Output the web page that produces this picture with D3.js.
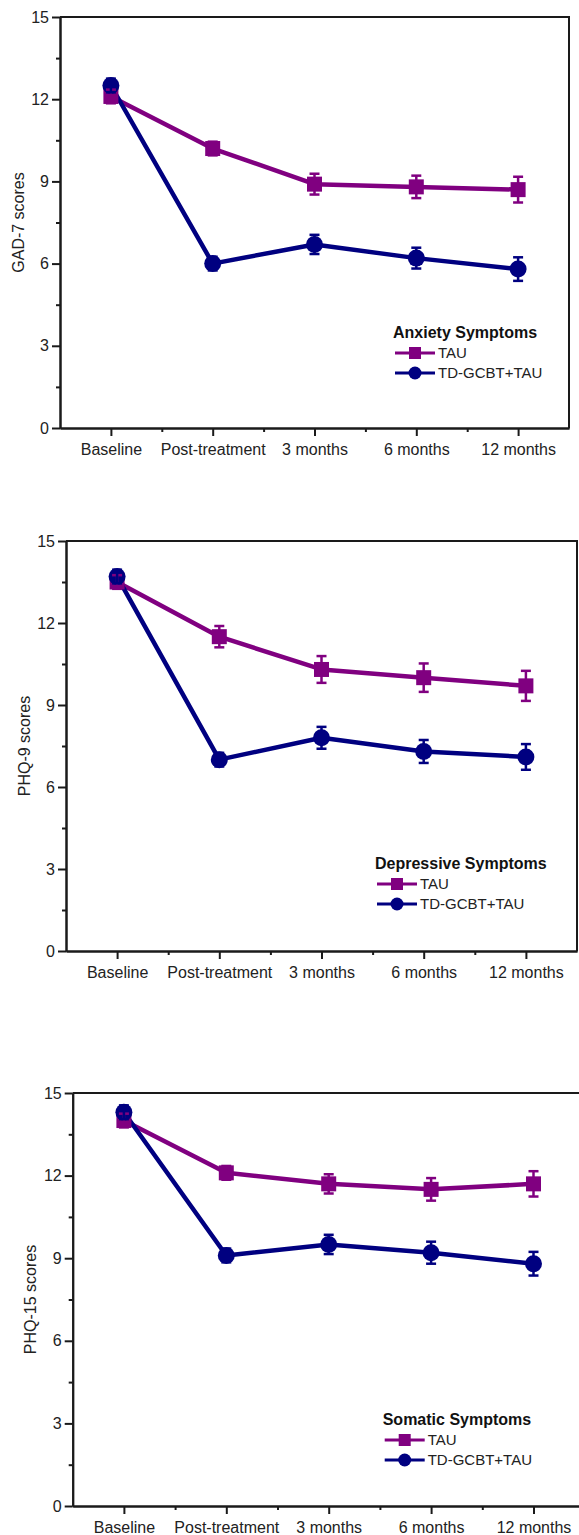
<!DOCTYPE html>
<html>
<head>
<meta charset="utf-8">
<script src="https://cdn.jsdelivr.net/npm/d3@7"></script>
<style>
  body { margin: 0; background: #fff; }
  svg { display: block; font-family: "Liberation Sans", Arial, sans-serif; }
</style>
</head>
<body>
<svg id="Figure" width="579" height="1535"></svg>
<script>
let timePoints = ["Baseline", "Post-treatment", "3 months", "6 months", "12 months"]
let yTicks = [0, 3, 6, 9, 12, 15]
let yMinorTicks = [1.5, 4.5, 7.5, 10.5, 13.5]
let seriesNames = ["TAU", "TD-GCBT+TAU"]

let yLabels = ["GAD-7 scores", "PHQ-9 scores", "PHQ-15 scores"]
let legendTitles = ["Anxiety Symptoms", "Depressive Symptoms", "Somatic Symptoms"]

// means and error bars
let gadTau = [12.1, 10.2, 8.9, 8.8, 8.7]
let gadTauErr = [0.25, 0.25, 0.38, 0.41, 0.47]
let gadGcbt = [12.5, 6.0, 6.7, 6.2, 5.8]
let gadGcbtErr = [0.25, 0.25, 0.35, 0.38, 0.43]

let phq9Tau = [13.5, 11.5, 10.3, 10.0, 9.7]
let phq9TauErr = [0.25, 0.39, 0.49, 0.52, 0.55]
let phq9Gcbt = [13.7, 7.0, 7.8, 7.3, 7.1]
let phq9GcbtErr = [0.25, 0.25, 0.4, 0.42, 0.47]

let phq15Tau = [14.0, 12.1, 11.7, 11.5, 11.7]
let phq15TauErr = [0.25, 0.25, 0.35, 0.41, 0.46]
let phq15Gcbt = [14.3, 9.1, 9.5, 9.2, 8.8]
let phq15GcbtErr = [0.25, 0.25, 0.35, 0.4, 0.43]

let svg = d3.select("#Figure")

let colors = { tau: "#800080", gcbt: "#000080", axis: "#1a1a1a", text: "#222" }

let panels = [
    { yLabel: yLabels[0], title: legendTitles[0], tau: gadTau, tauErr: gadTauErr, gcbt: gadGcbt, gcbtErr: gadGcbtErr },
    { yLabel: yLabels[1], title: legendTitles[1], tau: phq9Tau, tauErr: phq9TauErr, gcbt: phq9Gcbt, gcbtErr: phq9GcbtErr },
    { yLabel: yLabels[2], title: legendTitles[2], tau: phq15Tau, tauErr: phq15TauErr, gcbt: phq15Gcbt, gcbtErr: phq15GcbtErr }
]

function getPanelConfigs(){
    // plot boxes and legend spots for the three stacked panels
    return [
        { left: 60, top: 17, width: 509, height: 411, legendX: 333, legendY: 96 },
        { left: 66, top: 541, width: 511, height: 410, legendX: 309, legendY: 88 },
        { left: 72.7, top: 1093, width: 512, height: 413, legendX: 310, legendY: 87 }
    ]
}

function styleAxis(g){
    g.select(".domain").attr("stroke", colors.axis).attr("stroke-width", 2)
    g.selectAll(".tick line").attr("stroke", colors.axis).attr("stroke-width", 2)
    g.selectAll(".tick text")
        .attr("fill", colors.text)
        .style("font-size", "16px")
        .style("font-family", '"Liberation Sans", Arial, sans-serif')
}

function drawPanel(panel, config){
    let { left, top, width, height } = config
    let body = svg.append("g").attr("transform", `translate(${left},${top})`)

    let xScale = d3.scaleLinear().domain([-0.5, 4.5]).range([0, width])
    let yScale = d3.scaleLinear().domain([0, 15]).range([height, 0])

    // frame top and right
    body.append("path")
        .attr("d", `M0,${yScale(15)}H${xScale(4.5)}V${yScale(0)}`)
        .attr("fill", "none")
        .attr("stroke", colors.axis)
        .attr("stroke-width", 2)

    let axisY = d3.axisLeft(yScale).tickValues(yTicks).tickSize(8).tickSizeOuter(0).tickPadding(3)
    body.append("g").call(axisY).call(styleAxis)
    let axisYMinor = d3.axisLeft(yScale).tickValues(yMinorTicks).tickSize(4).tickSizeOuter(0).tickFormat("")
    body.append("g").call(axisYMinor).call(styleAxis)

    let axisX = d3.axisBottom(xScale)
        .tickValues(d3.range(timePoints.length))
        .tickFormat(i => timePoints[i])
        .tickSize(8).tickSizeOuter(0).tickPadding(8)
    body.append("g").attr("transform", `translate(0,${height})`).call(axisX).call(styleAxis)
    let axisXMinor = d3.axisBottom(xScale)
        .tickValues([0.5, 1.5, 2.5, 3.5])
        .tickSize(4).tickSizeOuter(0).tickFormat("")
    body.append("g").attr("transform", `translate(0,${height})`).call(axisXMinor).call(styleAxis)

    body.append("text")
        .attr("transform", `translate(-42,${height / 2}) rotate(-90)`)
        .attr("text-anchor", "middle")
        .attr("dy", "0.35em")
        .attr("fill", colors.text)
        .style("font-size", "16px")
        .text(panel.yLabel)

    let line = d3.line().x((d, i) => xScale(i)).y(d => yScale(d))

    let series = [
        { values: panel.tau, err: panel.tauErr, color: colors.tau, shape: "square" },
        { values: panel.gcbt, err: panel.gcbtErr, color: colors.gcbt, shape: "circle" }
    ]

    series.forEach(s => {
        body.append("path")
            .datum(s.values)
            .attr("d", line)
            .attr("fill", "none")
            .attr("stroke", s.color)
            .attr("stroke-width", 4.5)
            .attr("stroke-linejoin", "round")
    })

    series.forEach(s => {
        let marks = body.append("g")
        if (s.shape === "square"){
            marks.selectAll("rect").data(s.values).enter().append("rect")
                .attr("x", (d, i) => xScale(i) - 7.5)
                .attr("y", d => yScale(d) - 7.5)
                .attr("width", 15)
                .attr("height", 15)
                .attr("fill", s.color)
        } else {
            marks.selectAll("circle").data(s.values).enter().append("circle")
                .attr("cx", (d, i) => xScale(i))
                .attr("cy", d => yScale(d))
                .attr("r", 8.5)
                .attr("fill", s.color)
        }
    })

    // error bars last so the caps show over the markers
    series.forEach(s => {
        let bars = body.append("g").attr("stroke", s.color).attr("stroke-width", 2.5)
        s.values.forEach((v, i) => {
            let x = xScale(i)
            let y1 = yScale(v + s.err[i])
            let y2 = yScale(v - s.err[i])
            bars.append("line").attr("x1", x).attr("x2", x).attr("y1", y1).attr("y2", y2)
            bars.append("line").attr("x1", x - 5).attr("x2", x + 5).attr("y1", y1).attr("y2", y1)
            bars.append("line").attr("x1", x - 5).attr("x2", x + 5).attr("y1", y2).attr("y2", y2)
        })
    })

    drawLegend(body, panel, config, series)
}

function drawLegend(body, panel, config, series){
    let { height, legendX, legendY } = config
    let legend = body.append("g").attr("transform", `translate(${legendX},${height - legendY})`)

    legend.append("text")
        .attr("dy", "0.35em")
        .attr("fill", "#111")
        .style("font-size", "16px")
        .style("font-weight", "bold")
        .text(panel.title)

    series.forEach((s, i) => {
        let row = legend.append("g").attr("transform", `translate(2,${21 + i * 20})`)
        row.append("line")
            .attr("x1", 0).attr("x2", 40)
            .attr("stroke", s.color).attr("stroke-width", 3)
        if (s.shape === "square"){
            row.append("rect").attr("x", 14).attr("y", -6).attr("width", 12).attr("height", 12).attr("fill", s.color)
        } else {
            row.append("circle").attr("cx", 20).attr("r", 6.5).attr("fill", s.color)
        }
        row.append("text")
            .attr("x", 43)
            .attr("dy", "0.35em")
            .attr("fill", colors.text)
            .style("font-size", "15px")
            .text(seriesNames[i])
    })
}

let configs = getPanelConfigs()
panels.forEach((p, i) => drawPanel(p, configs[i]))
</script>
</body>
</html>
